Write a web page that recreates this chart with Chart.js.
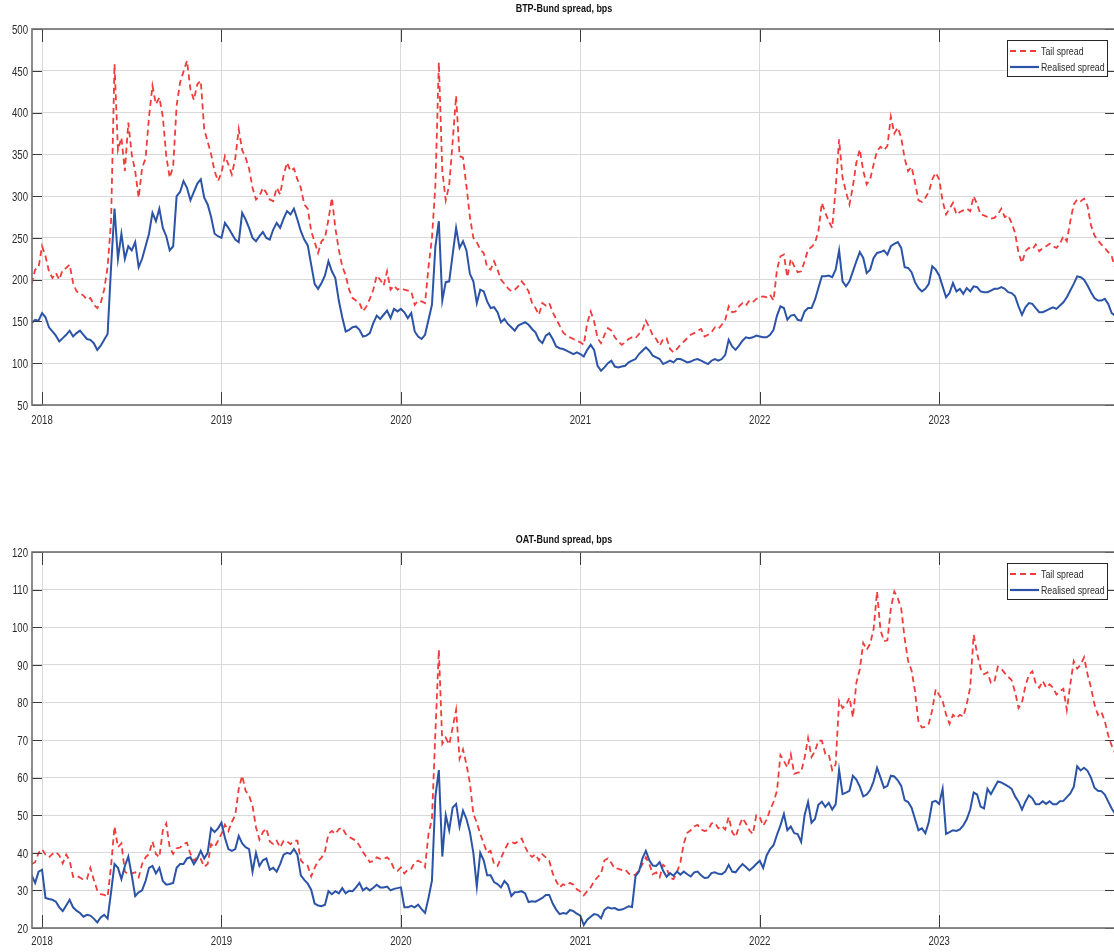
<!DOCTYPE html>
<html>
<head>
<meta charset="utf-8">
<script src="https://cdn.jsdelivr.net/npm/chart.js@4/dist/chart.umd.min.js"></script>
<style>
  html, body { margin: 0; padding: 0; background: #fff; overflow: hidden; }
  #wrap { position: relative; width: 1114px; height: 952px; overflow: hidden; background: #fff; }
  canvas { position: absolute; left: 0; }
  #btp { top: 0; }
  #oat { top: 523px; }
</style>
</head>
<body>
<div id="wrap">
  <canvas id="btp" width="1120" height="429"></canvas>
  <canvas id="oat" width="1120" height="429"></canvas>
</div>
<script>
// Weekly observations; the first one falls three weeks before 1 Jan 2018.
const FIRST_WEEK = 2018 - 3 / 52;
const WEEK = 1 / 52;

const yearTicks = [2018, 2019, 2020, 2021, 2022, 2023];
const btpTicks = [50, 100, 150, 200, 250, 300, 350, 400, 450, 500];
const oatTicks = [20, 30, 40, 50, 60, 70, 80, 90, 100, 110, 120];
const seriesNames = ['Tail spread', 'Realised spread'];
const panelTitles = ['BTP-Bund spread, bps', 'OAT-Bund spread, bps'];

// BTP-Bund, bps
const btpTail = [
  195, 212, 215,
  // 2018
  240, 228, 210, 202, 208, 200, 212, 214, 218, 196, 186, 184, 181, 176, 178, 170, 166, 172, 188, 215, 270, 458,
  355, 370, 330, 388, 350, 330, 298, 334, 345, 395, 432, 410, 418, 395, 348, 322, 336, 408, 436, 449, 462, 428,
  415, 434, 438, 380, 365, 350, 330, 318,
  // 2019
  328, 348, 338, 326, 345, 380, 355, 346, 333, 310, 296, 300, 310, 304, 296, 294, 310, 302, 325, 340, 330, 333,
  320, 310, 290, 285, 258, 245, 232, 246, 250, 272, 298, 262, 236, 216, 205, 188, 178, 175, 172, 162, 168, 177,
  188, 205, 200, 193, 210, 188, 193, 188,
  // 2020
  190, 188, 187, 186, 170, 175, 174, 172, 215, 250, 313, 460, 330, 295, 313, 365, 420, 348, 346, 312, 275, 250,
  245, 236, 232, 215, 212, 222, 212, 200, 195, 190, 186, 188, 192, 198, 193, 186, 172, 166, 158, 172, 169, 172,
  161, 153, 145, 137, 133, 131, 129, 127,
  // 2021
  125, 122, 148, 162, 150, 130, 124, 134, 142, 139, 131, 126, 122, 125, 129, 131, 130, 135, 140, 151, 143, 133,
  129, 121, 129, 130, 117, 113, 117, 122, 126, 130, 134, 136, 139, 141, 132, 134, 137, 143, 141, 146, 152, 168,
  161, 162, 168, 172, 169, 175, 173, 177,
  // 2022
  179, 180, 179, 182, 175, 212, 228, 230, 203, 225, 216, 209, 210, 222, 236, 239, 244, 258, 292, 280, 270, 262,
  309, 368, 322, 305, 290, 312, 340, 356, 330, 314, 320, 338, 354, 359, 355, 360, 395, 375, 382, 370, 345, 330,
  335, 316, 295, 293, 298, 305, 320, 328,
  // 2023
  320, 294, 278, 285, 292, 278, 281, 283, 285, 282, 300, 290, 278, 277, 275, 273, 274, 278, 285, 275, 277, 268,
  256, 232, 220, 234, 238, 236, 242, 234, 238, 240, 243, 240, 238, 243, 252, 246, 270, 290, 296, 294, 297, 288,
  265, 253, 247, 242, 238, 233, 228, 214
];
const btpRealised = [
  148, 152, 151,
  // 2018
  160, 155, 143, 138, 133, 126, 130, 134, 139, 132, 136, 139, 134, 129, 128, 124, 116, 121, 128, 135, 215, 285,
  225, 255, 225, 240, 235, 245, 215, 225, 240, 255, 280, 270, 285, 262, 252, 235, 240, 300, 305, 318, 310, 295,
  305, 315, 320, 298, 290, 275, 255, 252,
  // 2019
  250, 268, 262, 255, 248, 245, 280, 272, 262, 250, 246, 252, 257, 250, 248, 260, 268, 262, 273, 282, 278, 285,
  272, 258, 248, 241, 218, 195, 189, 196, 205, 222, 210, 202, 175, 155, 138, 140, 143, 144, 140, 132, 133, 136,
  148, 157, 153, 158, 163, 154, 165, 162,
  // 2020
  165, 161, 154, 160, 138, 132, 129, 134, 152, 170, 240, 270, 175, 197, 198, 230, 262, 238, 246, 235, 207, 198,
  172, 188, 186, 174, 166, 167, 161, 149, 153, 147, 143, 139, 145, 147, 149, 146, 141, 137, 128, 124, 133, 136,
  129, 120, 118, 117, 115, 113, 111, 113,
  // 2021
  111, 108, 116, 122, 116, 97, 91, 95, 100, 103, 96, 95, 96, 97, 101, 103, 105, 111, 115, 119, 115, 109,
  107, 105, 99, 101, 103, 101, 105, 105, 103, 101, 102, 104, 105, 103, 101, 99, 103, 105, 103, 105, 110, 128,
  120, 116, 121, 127, 131, 130, 131, 133,
  // 2022
  132, 131, 131, 134, 140, 157, 168, 166, 152, 157, 158, 152, 151, 162, 166, 166, 176, 190, 204, 204, 205, 203,
  212, 235, 198, 192, 198, 210, 222, 233, 226, 208, 212, 226, 232, 233, 235, 230, 240, 243, 245, 238, 215, 214,
  209, 197, 190, 186, 189, 195, 216, 212,
  // 2023
  205, 192, 179, 184, 196, 186, 189, 183, 190, 186, 192, 191, 186, 185, 185, 187, 189, 189, 191, 189, 185, 184,
  180, 168, 158, 167, 172, 171, 166, 161, 161, 163, 165, 167, 165, 169, 173, 179, 187, 195, 204, 203, 200, 193,
  185, 178, 175, 175, 177, 171, 160, 157
];

// OAT-Bund, bps
const oatTail = [
  37, 37.5, 40,
  // 2018
  41, 39.5, 38.8, 39.7, 40.2, 39.3, 37.2, 39.5, 37.9, 33.6, 33.9, 33.4, 32.8, 33, 36, 32.8, 30, 29, 28.8, 28.3,
  36.5, 47, 41.5, 42.5, 35, 34.3, 34.5, 34.8, 33.5, 37, 38.8, 39.7, 43, 39.7, 38.8, 46, 47.8, 41.4, 39.7, 41.2,
  41.4, 42.3, 42.7, 39.7, 37.9, 38.8, 38.4, 36.3, 37, 42.3, 41.5, 43.2,
  // 2019
  45, 47.5, 45.8, 48.2, 50, 57, 60.5, 56.5, 55.2, 52.5, 46.8, 43.5, 45.5, 46.5, 43, 42.3, 43.2, 41.4, 43.2, 43,
  42.3, 43.2, 43.2, 38, 37, 36.5, 33.7, 36, 37.8, 38.7, 40.4, 45, 45.8, 45, 46.3, 46.7, 45, 44.2, 43.7, 43.2,
  41.9, 40.2, 38.9, 37.5, 37.8, 38.8, 38.4, 38.4, 38.8, 37.9, 35.8, 35.2,
  // 2020
  36.1, 34.5, 35.5, 35.7, 37.5, 37.9, 37.4, 36.2, 45, 49, 72, 94, 69, 70.6, 68.8, 73.3, 78, 65, 67.5, 63.5,
  58.5, 50.3, 48, 45, 42.5, 40, 40.5, 37, 36.5, 38.5, 40.7, 42.4, 42.9, 42.5, 43, 43.8, 41.6, 39.8, 38.9, 39.6,
  38, 39.6, 38.8, 37.9, 34.5, 32.5, 30.8, 31.6, 31.3, 32, 31.5, 30.3,
  // 2021
  29.7, 28.7, 29.8, 30.8, 32.5, 33.5, 34.5, 38, 38.5, 37.3, 35.8, 35.8, 35.4, 35.6, 34.5, 34, 34.2, 35.3, 37, 38.8,
  37, 34.3, 34.8, 33.5, 36.8, 36, 33.3, 33, 34.8, 37.5, 42.5, 45.3, 46, 47, 47.4, 46.2, 45.8, 46, 47.8, 48,
  46.5, 47.1, 46.2, 49.5, 45.5, 44.2, 47, 49.2, 47.8, 46, 45, 50,
  // 2022
  49.4, 47.2, 48.8, 51.5, 53.5, 56.5, 66, 64.4, 62.7, 66.2, 61, 61.3, 61.5, 65.3, 70.5, 65.5, 67, 69.8, 69.8, 66.3,
  66.2, 62, 63.5, 80.4, 78.5, 79.3, 81.3, 76, 85.2, 88.8, 95.8, 94, 95.6, 99.5, 109.5, 99.2, 96.3, 96.5, 105, 109.5,
  107.7, 105, 97, 91, 88.5, 83, 74.8, 73.3, 73.5, 74.3, 78, 83.5,
  // 2023
  82, 80.4, 76.8, 74.3, 76.7, 75.8, 76.7, 76.2, 79.6, 84, 98, 93, 89, 87.5, 88, 85.2, 85.5, 89.5, 89, 87.8,
  86.8, 85.9, 82.8, 78.5, 80, 84.4, 87.3, 88.3, 85, 83.9, 85.7, 83.9, 84.8, 83.9, 82.1, 83, 83.6, 78, 84.8, 91,
  89, 90, 92, 87.5, 83.9, 79.5, 76.7, 77.5, 75, 71.2, 68.5, 66.5
];
const oatRealised = [
  34, 32, 35,
  // 2018
  35.5, 28, 27.7, 27.5, 27, 25.5, 24.5, 26, 27.5, 25.5, 24.6, 24, 23, 23.5, 23.3, 22.5, 21.5, 22.8, 23.5, 22.5,
  29.5, 37, 36, 33, 36.5, 39, 34, 28.5, 29.5, 30, 32.5, 36, 36.5, 34.5, 36, 32.5, 31.5, 31.7, 32, 36,
  37, 37, 38.5, 38.8, 37, 38.5, 40.5, 38.5, 40, 46.5, 45.5, 46.5,
  // 2019
  48, 44, 41, 40.5, 41, 44.5, 42.5, 41.5, 41, 35, 40, 36.5, 38, 38.5, 35.5, 36, 35, 37, 39.5, 40,
  39.7, 41, 39.5, 34, 32.8, 31.8, 30.2, 26.5, 26, 25.8, 26.2, 29.8, 29, 29.8, 29.2, 30.6, 29.2, 29.9, 29.8, 30.8,
  32, 30, 30.7, 30, 30.7, 31.5, 30.8, 30.8, 31, 30, 30.4, 30.6,
  // 2020
  30.8, 25.5, 25.5, 25.9, 25.5, 26.2, 25, 24, 28, 32.6, 55, 62, 39, 50, 46, 52, 53, 47, 51.2, 49,
  45.5, 40, 31, 40, 38, 34, 34, 32.2, 31.7, 30.8, 32.5, 31.5, 28.5, 29.5, 29.6, 29.8, 29.2, 26.9, 27.1, 27,
  27.5, 28, 28.8, 28.8, 26.5, 24.9, 23.7, 24, 23.8, 24.8, 24.5, 23.8,
  // 2021
  23.3, 20.8, 22.2, 23, 23.7, 23.5, 22.6, 24.8, 25.5, 25.2, 25.3, 24.8, 24.9, 25.3, 25.8, 25.6, 33.8, 35, 38.5, 40.5,
  38, 36.6, 36.5, 37.5, 35.2, 33.6, 34.6, 33.9, 35, 34.2, 35, 34.3, 33.7, 34.8, 35, 34, 33.3, 33.4, 34.6, 34.8,
  34.4, 34.3, 35, 36.8, 35, 34.8, 36, 37, 36.2, 35.3, 36.1, 37,
  // 2022
  37.9, 36, 39.3, 41, 42, 44.8, 47.3, 50.3, 46, 47, 45.2, 45, 42.9, 50, 53.5, 48, 49, 52.8, 53.6, 52.2,
  53.3, 51.5, 52.9, 62, 55.6, 56, 56.5, 60.5, 59.5, 57.6, 55, 55.5, 56.7, 59, 62.6, 60, 57.3, 57.8, 60.5, 60.3,
  59.3, 57.8, 54, 53.5, 52, 49, 46, 46.5, 45.2, 48.2, 53.5, 53.8,
  // 2023
  53, 57, 45, 45.5, 46, 45.8, 46.2, 47.3, 48.9, 51.5, 56, 55.5, 52.3, 51.8, 57, 55.6, 57.3, 59, 58.7, 58.2,
  57.7, 57, 55, 53.6, 51.5, 53.6, 55.3, 54.5, 52.9, 52.9, 53.7, 53, 53.7, 52.9, 52.9, 53.7, 53.8, 54.8, 55.8, 57.5,
  63, 61.9, 62.6, 61.8, 60, 57.3, 56.5, 56.4, 55.5, 53.6, 51.8, 50.3
];

const TAIL_COLOR = '#f23b3b';
const REAL_COLOR = '#2b53a7';
const TEXT_COLOR = '#2b2b2b';
const GRID_COLOR = '#d9d9d9';
const FONT = '"Liberation Sans", Arial, Helvetica, sans-serif';
const NARROW = 0.8; // horizontal squeeze applied to tick labels

Chart.defaults.font.family = FONT;
Chart.defaults.font.size = 12;
Chart.defaults.color = TEXT_COLOR;

function weekly(values) {
  return values.map((v, i) => ({ x: FIRST_WEEK + i * WEEK, y: v }));
}

function narrowText(ctx, text, x, y, align, squeeze) {
  ctx.save();
  ctx.translate(x, y);
  ctx.scale(squeeze, 1);
  ctx.textAlign = align;
  ctx.fillText(text, 0, 0);
  ctx.restore();
}

// Title, tick labels, inward tick marks, axes box and the boxed legend
const panelDecor = {
  id: 'panelDecor',
  afterDatasetsDraw(chart, args, opts) {
    const { ctx, chartArea: a, scales: { x, y } } = chart;
    ctx.save();
    ctx.lineWidth = 1;
    ctx.strokeStyle = '#3c3c3c';
    const seg = (x1, y1, x2, y2) => { ctx.beginPath(); ctx.moveTo(x1, y1); ctx.lineTo(x2, y2); ctx.stroke(); };
    yearTicks.forEach(v => {
      const px = Math.round(x.getPixelForValue(v)) + 0.5;
      seg(px, a.bottom, px, a.bottom - 13);
      seg(px, a.top, px, a.top + 13);
    });
    y.ticks.forEach(t => {
      const py = Math.round(y.getPixelForValue(t.value)) + 0.5;
      seg(a.left, py, a.left + 10, py);
      seg(a.right, py, a.right - 10, py);
    });
    ctx.strokeStyle = '#6f6f6f';
    ctx.lineWidth = 1.6;
    ctx.strokeRect(a.left, a.top, a.right - a.left, a.bottom - a.top);

    // tick labels
    ctx.fillStyle = TEXT_COLOR;
    ctx.font = '12px ' + FONT;
    ctx.textBaseline = 'middle';
    yearTicks.forEach(v => {
      narrowText(ctx, String(v), x.getPixelForValue(v), a.bottom + opts.xLabelGap, 'center', NARROW);
    });
    y.ticks.forEach(t => {
      narrowText(ctx, String(t.value), a.left - 4, y.getPixelForValue(t.value) + 1.5, 'right', NARROW);
    });

    // legend
    const lw = 100, lh = 36;
    const lx = a.right - 8 - lw, ly = a.top + 11;
    ctx.fillStyle = '#fff';
    ctx.fillRect(lx, ly, lw, lh);
    ctx.lineWidth = 1;
    ctx.strokeStyle = '#262626';
    ctx.strokeRect(lx + 0.5, ly + 0.5, lw, lh);
    const rows = [
      { y: ly + 11, color: TAIL_COLOR, dash: [6, 4], width: 1.8 },
      { y: ly + 27, color: REAL_COLOR, dash: [], width: 2.2 }
    ];
    rows.forEach((r, k) => {
      ctx.strokeStyle = r.color;
      ctx.lineWidth = r.width;
      ctx.setLineDash(r.dash);
      seg(lx + 3, r.y, lx + 32, r.y);
      ctx.setLineDash([]);
      ctx.fillStyle = TEXT_COLOR;
      ctx.font = '11px ' + FONT;
      ctx.textBaseline = 'middle';
      narrowText(ctx, seriesNames[k], lx + 34, r.y + 0.5, 'left', 0.8);
    });

    // title
    ctx.fillStyle = '#111';
    ctx.font = 'bold 11.5px ' + FONT;
    ctx.textBaseline = 'middle';
    narrowText(ctx, opts.title, opts.titleX, opts.titleY, 'center', 0.78);
    ctx.restore();
  }
};

function buildPanel(canvasId, title, titleY, xLabelGap, tail, realised, yTicks) {
  return new Chart(document.getElementById(canvasId), {
    type: 'line',
    data: {
      datasets: [
        { label: seriesNames[0], data: weekly(tail), borderColor: TAIL_COLOR, borderWidth: 1.8,
          borderDash: [6, 4], pointRadius: 0, fill: false, tension: 0, order: 1 },
        { label: seriesNames[1], data: weekly(realised), borderColor: REAL_COLOR, borderWidth: 2,
          pointRadius: 0, fill: false, tension: 0, order: 0 }
      ]
    },
    options: {
      responsive: false,
      animation: false,
      devicePixelRatio: 1,
      parsing: false,
      layout: { padding: { top: 29, right: 5, left: 0, bottom: 0 } },
      plugins: {
        legend: { display: false },
        tooltip: { enabled: false },
        title: { display: false },
        panelDecor: { title: title, titleX: 564, titleY: titleY, xLabelGap: xLabelGap }
      },
      scales: {
        x: {
          type: 'linear',
          min: 2017.944,
          max: 2023.98,
          afterBuildTicks: s => { s.ticks = yearTicks.map(v => ({ value: v })); },
          afterFit: s => { s.height = 24; },
          ticks: { display: false },
          grid: { color: GRID_COLOR, lineWidth: 1, drawTicks: false },
          border: { display: false }
        },
        y: {
          type: 'linear',
          min: yTicks[0],
          max: yTicks[yTicks.length - 1],
          afterBuildTicks: s => { s.ticks = yTicks.map(v => ({ value: v })); },
          afterFit: s => { s.width = 32; },
          ticks: { display: false },
          grid: { color: GRID_COLOR, lineWidth: 1, drawTicks: false },
          border: { display: false }
        }
      }
    },
    plugins: [panelDecor]
  });
}

buildPanel('btp', panelTitles[0], 9, 15.5, btpTail, btpRealised, btpTicks);
buildPanel('oat', panelTitles[1], 17, 14, oatTail, oatRealised, oatTicks);
</script>
</body>
</html>
